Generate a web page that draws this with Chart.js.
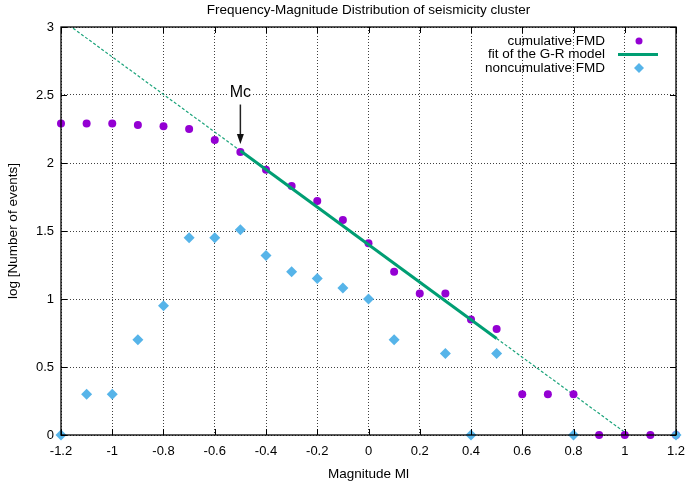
<!DOCTYPE html>
<html>
<head>
<meta charset="utf-8">
<script src="https://cdn.jsdelivr.net/npm/chart.js@4/dist/chart.umd.min.js"></script>
<style>
  html, body { margin: 0; padding: 0; background: #fff; }
  #wrap { width: 685px; height: 483px; position: relative; }
</style>
</head>
<body>
<div id="wrap"><canvas id="c" width="685" height="483"></canvas></div>
<script>
// ---- data ----
const magnitudes   = [-1.2, -1.1, -1.0, -0.9, -0.8, -0.7, -0.6, -0.5, -0.4, -0.3, -0.2, -0.1, 0.0, 0.1, 0.2, 0.3, 0.4, 0.5, 0.6, 0.7, 0.8, 0.9, 1.0, 1.1, 1.2];
const cumulativeLog = [2.29, 2.29, 2.29, 2.28, 2.27, 2.25, 2.17, 2.08, 1.95, 1.83, 1.72, 1.58, 1.41, 1.20, 1.04, 1.04, 0.85, 0.78, 0.30, 0.30, 0.30, 0, 0, 0, 0];
const noncumMags   = [-1.2, -1.1, -1.0, -0.9, -0.8, -0.7, -0.6, -0.5, -0.4, -0.3, -0.2, -0.1, 0.0, 0.1, 0.3, 0.4, 0.5, 0.8, 1.2];
const noncumLog    = [0, 0.30, 0.30, 0.70, 0.95, 1.45, 1.45, 1.51, 1.32, 1.20, 1.15, 1.08, 1.00, 0.70, 0.60, 0, 0.60, 0, 0];
const fitSolidX    = [-0.5, 0.5];
const fitSolidY    = [2.09, 0.71];
const fitDashedX   = [-1.2, 1.2];
const fitDashedY   = [3.056, -0.256];
const xTicks       = [-1.2, -1, -0.8, -0.6, -0.4, -0.2, 0, 0.2, 0.4, 0.6, 0.8, 1, 1.2];
const yTicks       = [0, 0.5, 1, 1.5, 2, 2.5, 3];
const mcMagnitude  = -0.5;
const mcLabelY     = 2.515;
const mcArrowFrom  = 2.43;
const mcArrowTo    = 2.14;
const titleText    = 'Frequency-Magnitude Distribution of seismicity cluster';
const xTitle       = 'Magnitude Ml';
const yTitle       = 'log [Number of events]';
const seriesNames  = ['cumulative FMD', 'fit of the G-R model', 'noncumulative FMD'];

const FONT = '"Liberation Sans", Arial, Helvetica, sans-serif';
const PURPLE = '#9400d3', GREEN = '#009e73', BLUE = '#56b4e9';

const zip = (xs, ys) => xs.map((x, i) => ({x, y: ys[i]}));

const overlay = {
  id: 'overlay',
  afterDraw(chart) {
    const {ctx, chartArea: a, scales: {x, y}} = chart;
    ctx.save();
    // frame
    ctx.strokeStyle = '#000'; ctx.lineWidth = 1.3; ctx.setLineDash([]);
    ctx.strokeRect(a.left, a.top, a.right - a.left, a.bottom - a.top);
    // inward ticks on all four sides
    ctx.lineWidth = 1;
    ctx.beginPath();
    const L = 6;
    xTicks.forEach(v => {
      const px = Math.round(x.getPixelForValue(v)) + 0.5;
      ctx.moveTo(px, a.bottom); ctx.lineTo(px, a.bottom - L);
      ctx.moveTo(px, a.top); ctx.lineTo(px, a.top + L);
    });
    yTicks.forEach(v => {
      const py = Math.round(y.getPixelForValue(v)) + 0.5;
      ctx.moveTo(a.left, py); ctx.lineTo(a.left + L, py);
      ctx.moveTo(a.right, py); ctx.lineTo(a.right - L, py);
    });
    ctx.stroke();

    // title and axis titles
    ctx.fillStyle = '#000';
    ctx.font = '13.5px ' + FONT;
    ctx.textAlign = 'center'; ctx.textBaseline = 'middle';
    ctx.fillText(titleText, (a.left + a.right) / 2, 10);
    ctx.fillText(xTitle, (a.left + a.right) / 2, 474);
    ctx.save();
    ctx.translate(13, (a.top + a.bottom) / 2);
    ctx.rotate(-Math.PI / 2);
    ctx.fillText(yTitle, 0, 0);
    ctx.restore();

    // legend
    const lx = 605, sx = 639;
    const rows = [41, 54.5, 68];
    ctx.textAlign = 'right';
    ctx.font = '13.5px ' + FONT;
    seriesNames.forEach((n, i) => ctx.fillText(n, lx, rows[i]));
    ctx.fillStyle = PURPLE;
    ctx.beginPath(); ctx.arc(sx, rows[0], 3.5, 0, Math.PI * 2); ctx.fill();
    ctx.strokeStyle = GREEN; ctx.lineWidth = 3;
    ctx.beginPath(); ctx.moveTo(618, rows[1]); ctx.lineTo(658, rows[1]); ctx.stroke();
    ctx.fillStyle = BLUE;
    ctx.beginPath();
    ctx.moveTo(sx, rows[2] - 5); ctx.lineTo(sx + 5, rows[2]); ctx.lineTo(sx, rows[2] + 5); ctx.lineTo(sx - 5, rows[2]);
    ctx.closePath(); ctx.fill();

    // Mc annotation
    const mx = x.getPixelForValue(mcMagnitude);
    const ty = y.getPixelForValue(mcLabelY);
    ctx.font = '16px ' + FONT;
    ctx.textAlign = 'center';
    const w = ctx.measureText('Mc').width;
    ctx.fillStyle = '#fff';
    ctx.fillRect(mx - w / 2 - 2, ty - 8, w + 4, 16);
    ctx.fillStyle = '#000';
    ctx.fillText('Mc', mx, ty);
    const y0 = y.getPixelForValue(mcArrowFrom), y1 = y.getPixelForValue(mcArrowTo);
    ctx.strokeStyle = '#222'; ctx.lineWidth = 1.5;
    ctx.beginPath(); ctx.moveTo(mx, y0); ctx.lineTo(mx, y1 - 6); ctx.stroke();
    ctx.fillStyle = '#111';
    ctx.beginPath(); ctx.moveTo(mx, y1); ctx.lineTo(mx - 3.5, y1 - 10); ctx.lineTo(mx + 3.5, y1 - 10); ctx.closePath(); ctx.fill();
    ctx.restore();
  }
};

new Chart(document.getElementById('c'), {
  type: 'scatter',
  data: {
    datasets: [
      { label: seriesNames[2], data: zip(noncumMags, noncumLog), pointStyle: 'rectRot', pointRadius: 5.5,
        backgroundColor: BLUE, borderColor: BLUE, borderWidth: 0, showLine: false, order: 0,
        clip: {left: 8, top: 8, right: 8, bottom: 8} },
      { label: seriesNames[1], data: zip(fitSolidX, fitSolidY), showLine: true, borderColor: GREEN, borderWidth: 3,
        pointRadius: 0, fill: false, order: 1, clip: 0 },
      { label: seriesNames[0], data: zip(magnitudes, cumulativeLog), pointStyle: 'circle', pointRadius: 4,
        backgroundColor: PURPLE, borderColor: PURPLE, borderWidth: 0, showLine: false, order: 2,
        clip: {left: 8, top: 8, right: 8, bottom: 8} },
      { label: 'fit extension', data: zip(fitDashedX, fitDashedY), showLine: true, borderColor: '#1aa37a', borderWidth: 1.2,
        borderDash: [3, 2], pointRadius: 0, fill: false, order: 3, clip: 0 }
    ]
  },
  options: {
    responsive: false,
    animation: false,
    layout: { padding: { top: 27, right: 9, left: 0, bottom: 0 } },
    plugins: { legend: { display: false }, title: { display: false }, tooltip: { enabled: false } },
    scales: {
      x: {
        type: 'linear', min: -1.2, max: 1.2,
        afterFit: s => { s.height = 48; s.paddingLeft = 0; s.paddingRight = 0; },
        afterBuildTicks: s => { s.ticks = xTicks.map(v => ({value: v})); },
        ticks: { color: '#000', font: { size: 13, family: FONT }, padding: 9, maxRotation: 0, autoSkip: false,
          callback: v => String(Number(Number(v).toFixed(1))) },
        grid: { color: 'rgba(0,0,0,0.75)', lineWidth: 1, drawTicks: false },
        border: { display: false, dash: [1, 2] }
      },
      y: {
        type: 'linear', min: 0, max: 3,
        afterFit: s => { s.width = 61; s.paddingTop = 0; s.paddingBottom = 0; },
        afterBuildTicks: s => { s.ticks = yTicks.map(v => ({value: v})); },
        ticks: { color: '#000', font: { size: 13, family: FONT }, padding: 7,
          callback: v => String(Number(Number(v).toFixed(1))) },
        grid: { color: 'rgba(0,0,0,0.75)', lineWidth: 1, drawTicks: false },
        border: { display: false, dash: [1, 2] }
      }
    }
  },
  plugins: [overlay]
});
</script>
</body>
</html>
